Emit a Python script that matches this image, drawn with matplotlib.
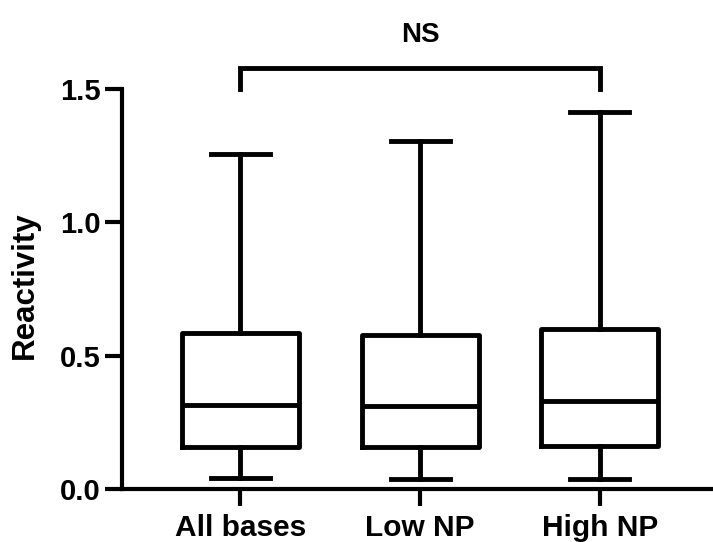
import matplotlib.pyplot as plt

plt.rcParams['font.family'] = ['Liberation Sans', 'DejaVu Sans']
plt.rcParams['font.weight'] = 'bold'

groups = ["All bases", "Low NP", "High NP"]
whislo = [0.041, 0.038, 0.038]
q1 = [0.158, 0.158, 0.160]
med = [0.316, 0.312, 0.330]
q3 = [0.586, 0.579, 0.600]
whishi = [1.256, 1.305, 1.414]

stats = []
for i, name in enumerate(groups):
    stats.append({"label": name, "whislo": whislo[i], "q1": q1[i],
                  "med": med[i], "q3": q3[i], "whishi": whishi[i],
                  "fliers": []})

lw = 3.5
fig = plt.figure(figsize=(7.13, 5.42), dpi=100)
ax = fig.add_axes([0.1710, 0.0978, 0.8290, 0.738])

ax.bxp(stats, positions=[0, 1, 2], widths=0.65, showfliers=False,
       boxprops=dict(color="black", linewidth=lw),
       medianprops=dict(color="black", linewidth=lw),
       whiskerprops=dict(color="black", linewidth=lw),
       capprops=dict(color="black", linewidth=lw),
       capwidths=0.33)

ax.set_xlim(-0.66, 2.63)
ax.set_ylim(0, 1.5)
ax.set_yticks([0.0, 0.5, 1.0, 1.5])
ax.set_yticklabels(["0.0", "0.5", "1.0", "1.5"])
ax.set_ylabel("Reactivity", fontsize=22.5, fontweight="bold")
ax.yaxis.set_label_coords(-0.138, 0.51)

for side in ["top", "right"]:
    ax.spines[side].set_visible(False)
for side in ["left", "bottom"]:
    ax.spines[side].set_linewidth(3)
ax.tick_params(axis="both", width=3, length=12)
ax.tick_params(axis="y", labelsize=21, pad=3)
ax.tick_params(axis="x", labelsize=21.5, pad=6)
for lab in ax.get_xticklabels() + ax.get_yticklabels():
    lab.set_fontweight("bold")

# significance bracket between first and last group
ytop = 1.58
ax.plot([0, 0, 2, 2], [1.50, ytop, ytop, 1.50], color="black",
        linewidth=lw, clip_on=False, solid_joinstyle="miter")
ax.text(1, 1.676, "NS", ha="center", va="baseline", fontsize=20,
        fontweight="bold")

fig.savefig("out.png", dpi=100)
